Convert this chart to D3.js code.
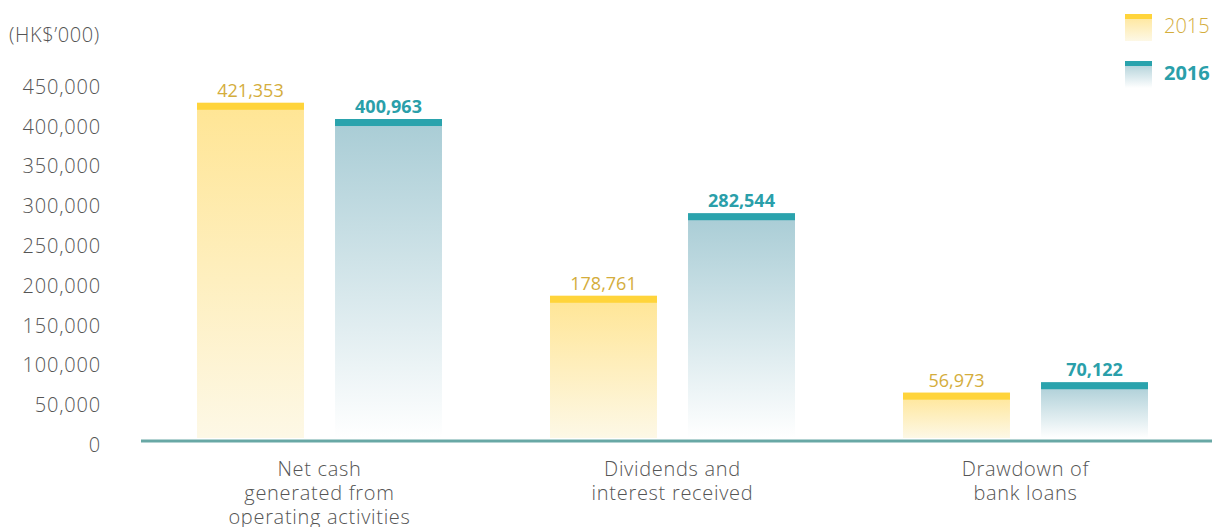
<!DOCTYPE html>
<html>
<head>
<meta charset="utf-8">
<script src="https://cdn.jsdelivr.net/npm/d3@7"></script>
<style>
  body { margin: 0; background: #fff; }
  svg text { font-family: "Open Sans", "Lato", sans-serif; font-weight: 300; }
</style>
</head>
<body>
<svg id="chart" width="1212" height="527"></svg>
<script>
const width = 1212;
const height = 527;

const categories = [
  ["Net cash", "generated from", "operating activities"],
  ["Dividends and", "interest received"],
  ["Drawdown of", "bank loans"]
];
const years = ["2015", "2016"];
const values2015 = [421353, 178761, 56973];
const values2016 = [400963, 282544, 70122];
const yTicks = [0, 50000, 100000, 150000, 200000, 250000, 300000, 350000, 400000, 450000];

const capColor = { "2015": "#ffd43b", "2016": "#2aa3ad" };
const textColor = { "2015": "#d4ad3c", "2016": "#2a9faa" };

const svg = d3.select("svg#chart");
const defs = svg.append("defs");

// vertical fades for the bar bodies
const grad15 = defs.append("linearGradient").attr("id", "g2015")
  .attr("x1", 0).attr("y1", 0).attr("x2", 0).attr("y2", 1);
grad15.append("stop").attr("offset", "0%").attr("stop-color", "#ffe594");
grad15.append("stop").attr("offset", "100%").attr("stop-color", "#fdf8e6");
const grad16 = defs.append("linearGradient").attr("id", "g2016")
  .attr("x1", 0).attr("y1", 0).attr("x2", 0).attr("y2", 1);
grad16.append("stop").attr("offset", "0%").attr("stop-color", "#a8ccd5");
grad16.append("stop").attr("offset", "100%").attr("stop-color", "#ffffff");

const y = d3.scaleLinear().domain([0, 450000]).range([438, 80]);

const x0 = d3.scaleBand()
  .domain(d3.range(categories.length))
  .range([143, 1202])
  .paddingInner(0.306)
  .paddingOuter(0.153);

const x1 = d3.scaleBand()
  .domain(years)
  .range([0, x0.bandwidth()])
  .paddingInner(0.225);

const rows = categories.map((c, i) => ({
  i, lines: c,
  bars: [
    { year: "2015", value: values2015[i] },
    { year: "2016", value: values2016[i] }
  ]
}));

// y axis labels (no line)
const yAxis = svg.append("g")
  .attr("transform", "translate(101,0)")
  .call(d3.axisLeft(y).tickValues(yTicks).tickSize(0).tickPadding(0)
    .tickFormat(d3.format(",")));
yAxis.select(".domain").remove();
yAxis.selectAll("text")
  .attr("dy", "0.32em")
  .attr("y", 7)
  .attr("fill", "#555")
  .style("font-size", "20px")
  .style("letter-spacing", "0.8px")
  .style("font-family", "'Open Sans', Lato, sans-serif")
  .style("font-weight", 300);

svg.append("text")
  .attr("x", 9).attr("y", 42)
  .attr("fill", "#555")
  .style("font-size", "20px")
  .style("letter-spacing", "0.6px")
  .text("(HK$\u2019000)");

const group = svg.append("g").selectAll("g")
  .data(rows)
  .join("g")
  .attr("transform", d => `translate(${x0(d.i)},0)`);

const bar = group.selectAll("g.bar")
  .data(d => d.bars)
  .join("g")
  .attr("class", "bar");

bar.append("rect")
  .attr("x", d => x1(d.year))
  .attr("y", d => y(d.value))
  .attr("width", x1.bandwidth())
  .attr("height", d => y(0) - y(d.value))
  .attr("fill", d => `url(#g${d.year})`);

bar.append("rect")
  .attr("x", d => x1(d.year))
  .attr("y", d => y(d.value))
  .attr("width", x1.bandwidth())
  .attr("height", 7)
  .attr("fill", d => capColor[d.year]);

bar.append("text")
  .attr("x", d => x1(d.year) + x1.bandwidth() / 2)
  .attr("y", d => y(d.value) - 6)
  .attr("text-anchor", "middle")
  .attr("fill", d => textColor[d.year])
  .style("font-size", "18px")
  .style("font-weight", d => d.year === "2016" ? "bold" : "normal")
  .text(d => d3.format(",")(d.value));

// category labels
group.append("text")
  .attr("x", x0.bandwidth() / 2)
  .attr("text-anchor", "middle")
  .attr("fill", "#555")
  .style("font-size", "20px")
  .style("letter-spacing", "0.7px")
  .selectAll("tspan")
  .data(d => d.lines)
  .join("tspan")
  .attr("x", x0.bandwidth() / 2)
  .attr("y", (d, i) => 476 + i * 24)
  .text(d => d);

// baseline
svg.append("line")
  .attr("x1", 141).attr("x2", width)
  .attr("y1", 441).attr("y2", 441)
  .attr("stroke", "#68a8a5")
  .attr("stroke-width", 3);

// legend
const legend = svg.append("g").selectAll("g")
  .data(years)
  .join("g")
  .attr("transform", (d, i) => `translate(1125,${14 + i * 47})`);
legend.append("rect")
  .attr("width", 27).attr("height", 27)
  .attr("fill", d => `url(#g${d})`);
legend.append("rect")
  .attr("width", 27).attr("height", 5)
  .attr("fill", d => capColor[d]);
legend.append("text")
  .attr("x", 39).attr("y", 19)
  .attr("fill", d => textColor[d])
  .style("font-size", "20px")
  .style("font-weight", d => d === "2016" ? "bold" : 300)
  .text(d => d);
</script>
</body>
</html>
